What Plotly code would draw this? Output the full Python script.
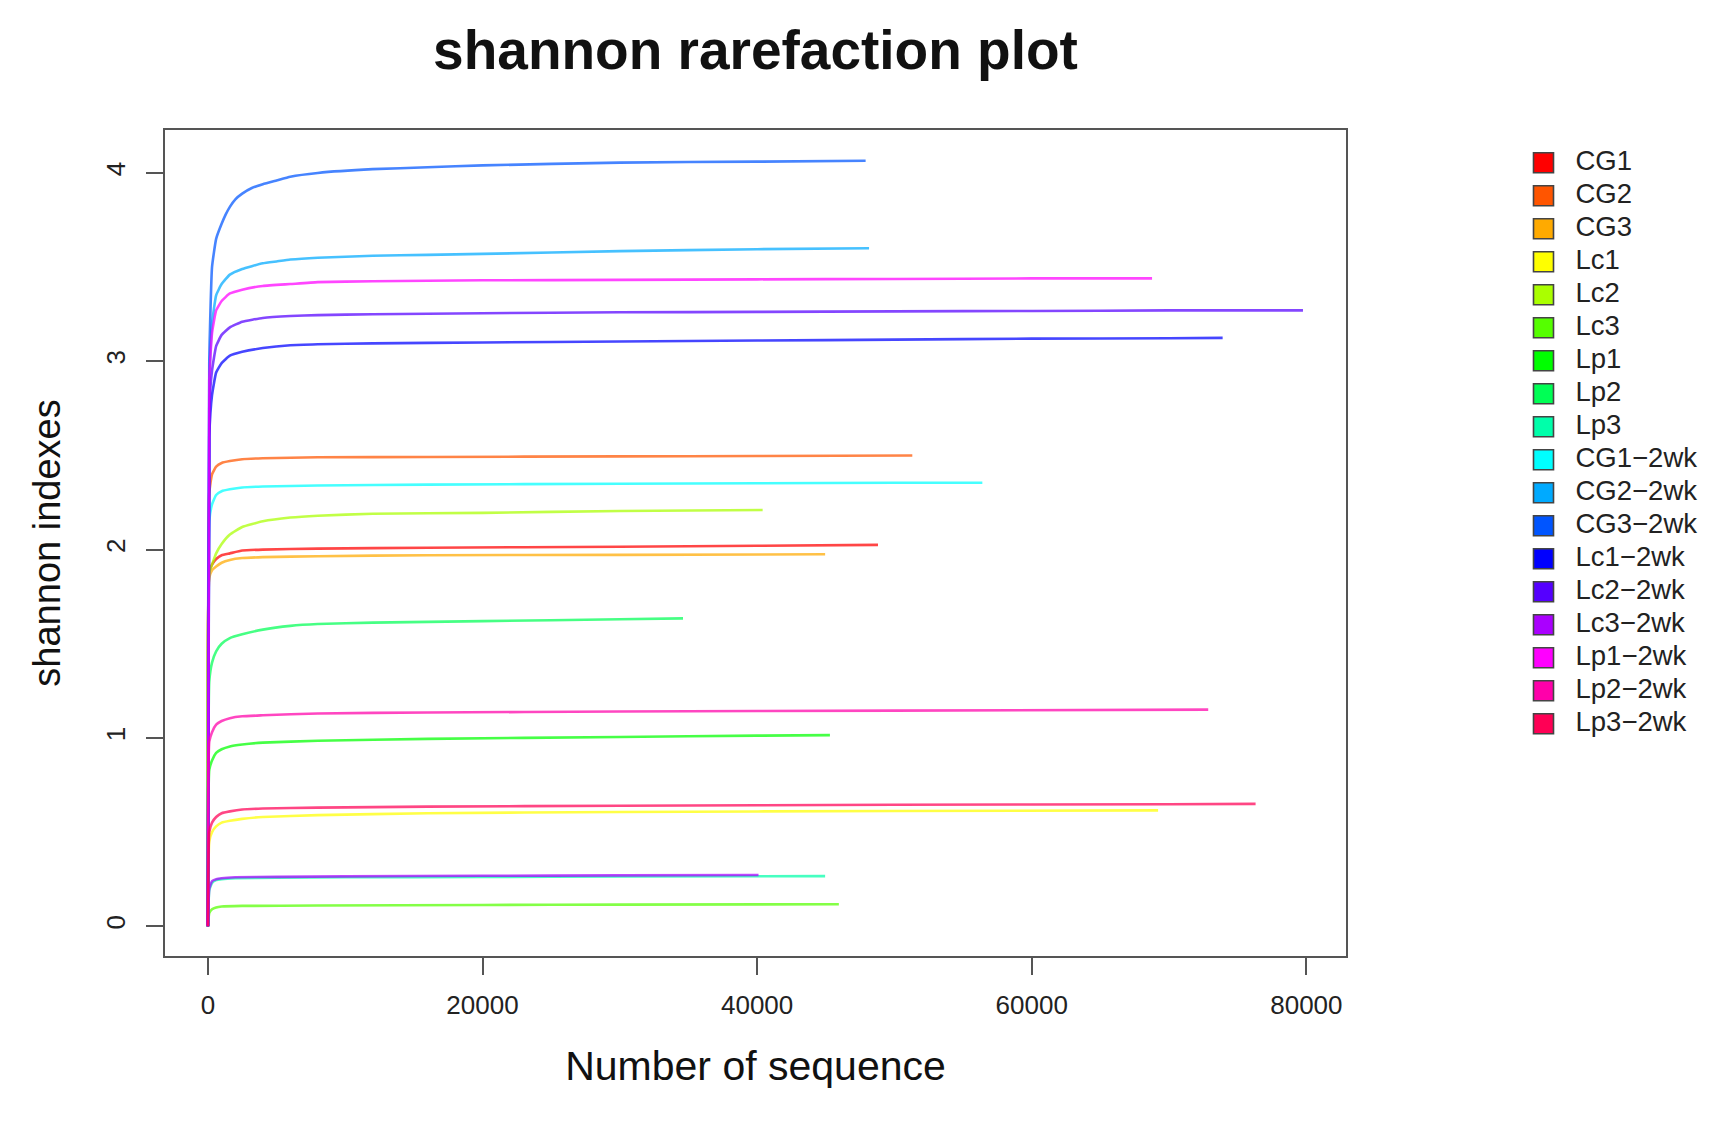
import plotly.graph_objects as go

# ---- data (depth = number of sequences, value = Shannon index)
labels = ["CG1", "CG2", "CG3", "Lc1", "Lc2", "Lc3", "Lp1", "Lp2", "Lp3",
          "CG1\u22122wk", "CG2\u22122wk", "CG3\u22122wk", "Lc1\u22122wk", "Lc2\u22122wk",
          "Lc3\u22122wk", "Lp1\u22122wk", "Lp2\u22122wk", "Lp3\u22122wk"]
colors = ["#FF0000", "#FF5500", "#FFAA00", "#FFFF00", "#AAFF00", "#55FF00",
          "#00FF00", "#00FF55", "#00FFAA", "#00FFFF", "#00AAFF", "#0055FF",
          "#0000FF", "#5500FF", "#AA00FF", "#FF00FF", "#FF00AA", "#FF0055"]

CG1_depth = [1, 100, 300, 600, 1000, 1600, 2500, 4000, 8000, 16000, 30000, 40000, 48800]
CG1_shannon = [0, 1.88, 1.92, 1.95, 1.97, 1.98, 1.995, 2.0, 2.005, 2.01, 2.015, 2.02, 2.025]
CG2_depth = [1, 100, 300, 600, 1000, 1600, 2500, 4000, 8000, 16000, 30000, 40000, 51300]
CG2_shannon = [0, 2.3, 2.4, 2.44, 2.46, 2.47, 2.48, 2.485, 2.49, 2.492, 2.495, 2.497, 2.50]
CG3_depth = [1, 100, 300, 600, 1000, 1600, 2500, 4000, 8000, 16000, 30000, 44950]
CG3_shannon = [0, 1.85, 1.89, 1.91, 1.93, 1.945, 1.955, 1.96, 1.965, 1.97, 1.972, 1.975]
Lc1_depth = [1, 100, 300, 600, 1000, 1600, 2500, 4000, 8000, 16000, 30000, 50000, 69200]
Lc1_shannon = [0, 0.45, 0.5, 0.53, 0.55, 0.56, 0.57, 0.58, 0.59, 0.6, 0.607, 0.612, 0.615]
Lc2_depth = [1, 100, 300, 600, 1000, 1600, 2500, 4000, 6000, 8000, 12000, 20000, 30000, 40400]
Lc2_shannon = [0, 1.88, 1.92, 1.98, 2.03, 2.08, 2.12, 2.15, 2.17, 2.18, 2.19, 2.195, 2.205, 2.21]
Lc3_depth = [1, 100, 300, 600, 1000, 2500, 8000, 20000, 30000, 45950]
Lc3_shannon = [0, 0.07, 0.09, 0.1, 0.105, 0.108, 0.11, 0.113, 0.115, 0.117]
Lp1_depth = [1, 100, 300, 600, 1000, 1600, 2500, 4000, 8000, 16000, 30000, 40000, 45300]
Lp1_shannon = [0, 0.83, 0.88, 0.92, 0.94, 0.955, 0.965, 0.975, 0.985, 0.995, 1.005, 1.012, 1.015]
Lp2_depth = [1, 100, 300, 600, 1000, 1600, 2500, 4000, 6000, 8000, 12000, 20000, 30000, 34600]
Lp2_shannon = [0, 1.3, 1.4, 1.46, 1.5, 1.53, 1.55, 1.575, 1.595, 1.605, 1.612, 1.62, 1.63, 1.635]
Lp3_depth = [1, 100, 300, 600, 1000, 2000, 5000, 10000, 20000, 30000, 44950]
Lp3_shannon = [0, 0.19, 0.23, 0.245, 0.25, 0.255, 0.258, 0.26, 0.262, 0.264, 0.266]
CG1_2wk_depth = [1, 100, 300, 600, 1000, 1600, 2500, 4000, 8000, 16000, 30000, 40000, 50000, 56400]
CG1_2wk_shannon = [0, 2.15, 2.24, 2.29, 2.31, 2.32, 2.33, 2.335, 2.34, 2.345, 2.35, 2.352, 2.355, 2.355]
CG2_2wk_depth = [1, 100, 300, 600, 1000, 1600, 2500, 3200, 4000, 5000, 6000, 8000, 12000, 16000, 20000, 30000, 40000, 48150]
CG2_2wk_shannon = [0, 2.9, 3.2, 3.35, 3.41, 3.46, 3.49, 3.505, 3.52, 3.53, 3.54, 3.55, 3.56, 3.565, 3.57, 3.585, 3.595, 3.60]
CG3_2wk_depth = [1, 100, 300, 600, 1000, 1300, 1600, 2000, 2500, 3200, 4000, 5000, 6000, 8000, 12000, 16000, 20000, 30000, 40000, 47900]
CG3_2wk_shannon = [0, 3.0, 3.5, 3.65, 3.73, 3.78, 3.82, 3.86, 3.89, 3.92, 3.94, 3.96, 3.98, 4.0, 4.02, 4.03, 4.04, 4.055, 4.06, 4.065]
Lc1_2wk_depth = [1, 100, 300, 600, 1000, 1600, 2500, 4000, 6000, 8000, 12000, 20000, 30000, 40000, 50000, 60000, 70000, 73900]
Lc1_2wk_shannon = [0, 2.6, 2.82, 2.94, 2.99, 3.03, 3.05, 3.07, 3.085, 3.09, 3.095, 3.10, 3.105, 3.11, 3.115, 3.12, 3.122, 3.124]
Lc2_2wk_depth = [1, 100, 300, 600, 1000, 1600, 2500, 4000, 6000, 8000, 12000, 20000, 30000, 40000, 50000, 60000, 70000, 79750]
Lc2_2wk_shannon = [0, 2.75, 2.95, 3.08, 3.14, 3.18, 3.21, 3.23, 3.24, 3.245, 3.25, 3.255, 3.26, 3.262, 3.265, 3.267, 3.27, 3.27]
Lc3_2wk_depth = [1, 100, 300, 600, 1000, 2000, 5000, 10000, 20000, 30000, 40100]
Lc3_2wk_shannon = [0, 0.2, 0.24, 0.25, 0.255, 0.26, 0.262, 0.265, 0.268, 0.27, 0.272]
Lp1_2wk_depth = [1, 100, 300, 600, 1000, 1600, 2500, 4000, 6000, 8000, 12000, 20000, 30000, 40000, 50000, 60000, 68760]
Lp1_2wk_shannon = [0, 2.9, 3.15, 3.27, 3.32, 3.36, 3.38, 3.40, 3.41, 3.42, 3.425, 3.43, 3.432, 3.435, 3.437, 3.44, 3.44]
Lp2_2wk_depth = [1, 100, 300, 600, 1000, 1600, 2500, 4000, 8000, 16000, 30000, 50000, 72850]
Lp2_2wk_shannon = [0, 0.98, 1.03, 1.07, 1.09, 1.105, 1.115, 1.12, 1.13, 1.135, 1.14, 1.145, 1.15]
Lp3_2wk_depth = [1, 100, 300, 600, 1000, 1600, 2500, 4000, 8000, 16000, 30000, 50000, 70000, 76300]
Lp3_2wk_shannon = [0, 0.5, 0.55, 0.58, 0.6, 0.61, 0.62, 0.625, 0.63, 0.635, 0.64, 0.645, 0.648, 0.65]

x_ticks = [0, 20000, 40000, 60000, 80000]
y_ticks = [0, 1, 2, 3, 4]

depths = [CG1_depth, CG2_depth, CG3_depth, Lc1_depth, Lc2_depth, Lc3_depth,
          Lp1_depth, Lp2_depth, Lp3_depth, CG1_2wk_depth, CG2_2wk_depth, CG3_2wk_depth,
          Lc1_2wk_depth, Lc2_2wk_depth, Lc3_2wk_depth, Lp1_2wk_depth, Lp2_2wk_depth, Lp3_2wk_depth]
values = [CG1_shannon, CG2_shannon, CG3_shannon, Lc1_shannon, Lc2_shannon, Lc3_shannon,
          Lp1_shannon, Lp2_shannon, Lp3_shannon, CG1_2wk_shannon, CG2_2wk_shannon, CG3_2wk_shannon,
          Lc1_2wk_shannon, Lc2_2wk_shannon, Lc3_2wk_shannon, Lp1_2wk_shannon, Lp2_2wk_shannon, Lp3_2wk_shannon]

FONT = "Liberation Sans, Arial, sans-serif"
W, H = 1724, 1131
ML, MT, MB = 157, 122, 183          # page has an 8px body offset
PLOT_W = 1181
AREA_W = W - ML

fig = go.Figure()
for lab, col, xs, ys in zip(labels, colors, depths, values):
    fig.add_trace(go.Scatter(x=xs, y=ys, mode="lines", name=lab, showlegend=False,
                             opacity=0.72, line=dict(color=col, width=2.6, shape="spline",
                                                     smoothing=0.4),
                             xaxis="x", yaxis="y"))

# legend drawn as a keyed list on its own (hidden) axes: one row per sample
rows = list(range(len(labels)))
fig.add_trace(go.Scatter(x=[0] * len(rows), y=rows, mode="markers", showlegend=False,
                         hoverinfo="skip",
                         marker=dict(symbol="square", size=20, color=colors,
                                     line=dict(color="#444444", width=1.6)),
                         xaxis="x2", yaxis="y2"))
fig.add_trace(go.Scatter(x=[1] * len(rows), y=rows, mode="text", text=labels,
                         textposition="middle right", showlegend=False, hoverinfo="skip",
                         textfont=dict(size=27.5, color="#222222", family=FONT),
                         xaxis="x2", yaxis="y2"))

leg_left = 1480 - ML
fig.update_layout(
    width=W, height=H,
    margin=dict(l=ML, r=0, t=MT, b=MB),
    paper_bgcolor="white", plot_bgcolor="white",
    font=dict(family=FONT, color="#222222"),
    title=dict(text="<b>shannon rarefaction plot</b>", x=(ML + PLOT_W / 2) / W, xref="container",
               xanchor="center", y=1 - 41.5 / H, yref="container", yanchor="middle",
               font=dict(size=55, color="#111111", family=FONT)),
    showlegend=False,
    xaxis=dict(domain=[0, PLOT_W / AREA_W], range=[-3124, 82884], tickvals=x_ticks,
               ticktext=[str(v) for v in x_ticks],
               showgrid=False, zeroline=False, showline=True, mirror=True,
               linecolor="#555555", linewidth=2, ticks="outside", ticklen=17,
               tickwidth=2, tickcolor="#555555", ticklabelstandoff=8,
               tickfont=dict(size=26, color="#222222"),
               title=dict(text="Number of sequence", standoff=32,
                          font=dict(size=41, color="#111111"))),
    yaxis=dict(domain=[0, 1], range=[-0.158, 4.228], tickvals=y_ticks,
               ticktext=[str(v) for v in y_ticks],
               showgrid=False, zeroline=False, showline=True, mirror=True,
               linecolor="#555555", linewidth=2, ticks="outside", ticklen=17,
               tickwidth=2, tickcolor="#555555", tickangle=-90, ticklabelstandoff=11,
               tickfont=dict(size=26, color="#222222"),
               title=dict(text="shannon indexes", standoff=28,
                          font=dict(size=38, color="#111111"))),
    xaxis2=dict(domain=[leg_left / AREA_W, 1.0], anchor="y2",
                range=[-55.5 / 32, (W - 1480 - 55.5) / 32], visible=False, fixedrange=True),
    yaxis2=dict(domain=[0, 1], anchor="x2",
                range=[(H - MB - 154.8) / 33.0, (MT - 154.8) / 33.0],
                visible=False, fixedrange=True),
)

fig.write_html("out.html")
